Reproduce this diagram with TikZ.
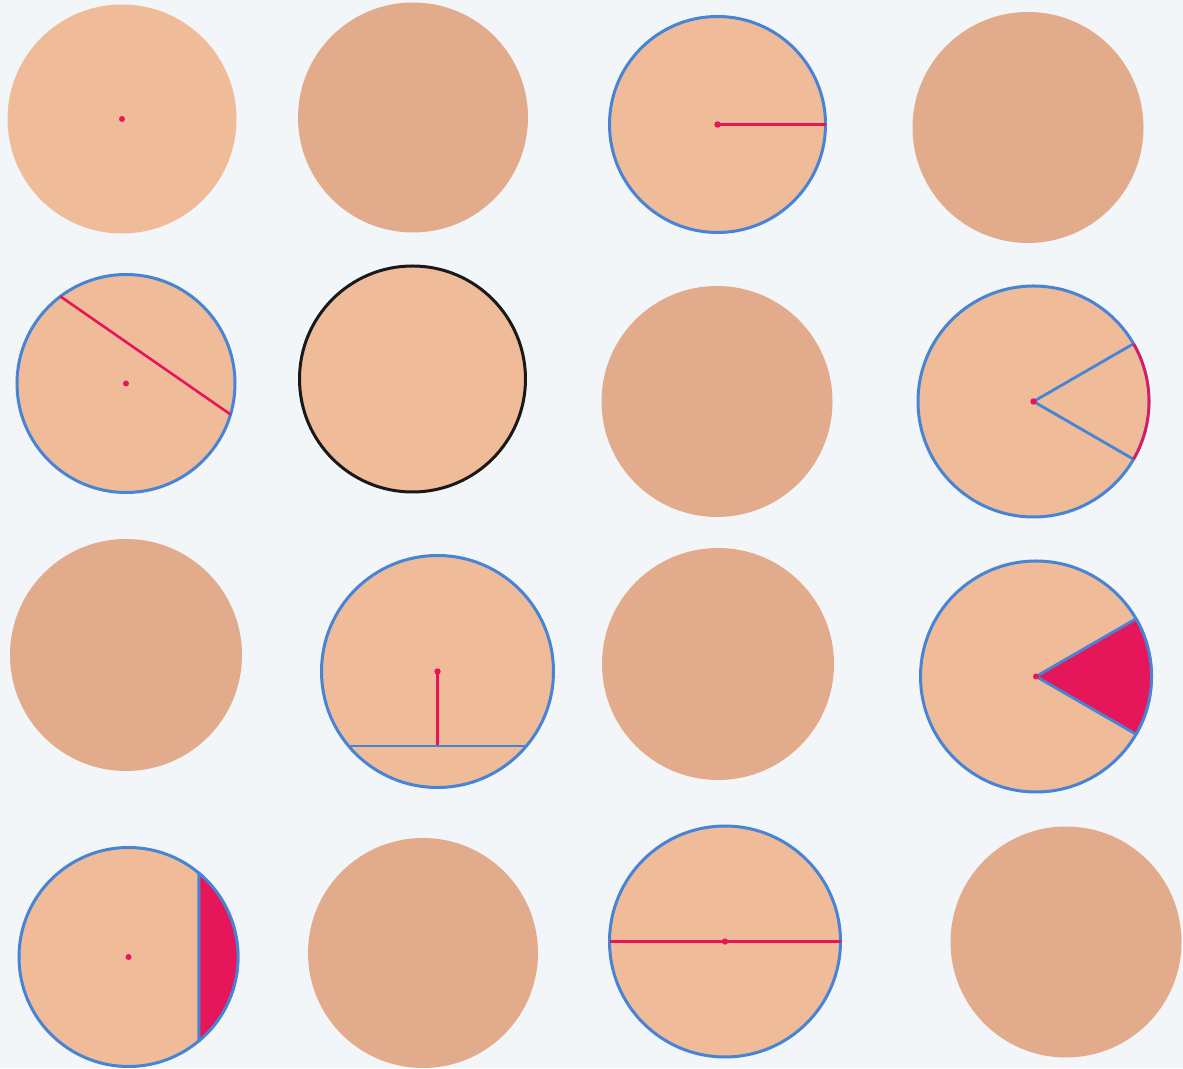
\documentclass[tikz,border=0pt]{standalone}
\definecolor{bgc}{HTML}{F2F6F9}
\definecolor{peach}{HTML}{EFBB99}
\definecolor{tan}{HTML}{E2AC8C}
\definecolor{blueC}{HTML}{4784D6}
\definecolor{redC}{HTML}{E5175A}
\begin{document}
\begin{tikzpicture}[x=1pt,y=1pt,
  light/.style={fill=peach},
  dark/.style={fill=tan},
  outline/.style={draw=blueC, line width=3pt},
  blackline/.style={draw=black!90, line width=3pt},
  redline/.style={draw=redC, line width=2.6pt},
  blueline/.style={draw=blueC, line width=2.8pt},
  dot/.style={fill=redC}]
\fill[bgc] (0,0) rectangle (1183,1068);
% centres
\coordinate (c1) at (122,949);
\coordinate (c2) at (413,950.5);
\coordinate (c3) at (717.5,943.5);
\coordinate (c4) at (1028,940.5);
\coordinate (c5) at (126,684.5);
\coordinate (c6) at (412.5,689);
\coordinate (c7) at (717,666.5);
\coordinate (c8) at (1033.5,666.5);
\coordinate (c9) at (126,413);
\coordinate (c10) at (437.5,396.5);
\coordinate (c11) at (718,404);
\coordinate (c12) at (1036,391.5);
\coordinate (c13) at (128.5,111);
\coordinate (c14) at (423,115);
\coordinate (c15) at (725,126.5);
\coordinate (c16) at (1066,126);
% row 1
\fill[light] (c1) circle (114.5);
\fill[dot] (c1) circle (3);
\fill[dark] (c2) circle (115);
\path[light, outline] (c3) circle (108);
\draw[redline] (c3) -- ++(0:108);
\fill[dot] (c3) circle (3.2);
\fill[dark] (c4) circle (115.5);
% row 2
\path[light, outline] (c5) circle (109);
\path (c5) ++(127:109) coordinate (p5a) (c5) ++(-16.5:109) coordinate (p5b);
\draw[redline] (p5a) -- (p5b);
\fill[dot] (c5) circle (3);
\path[light, blackline] (c6) circle (113);
\fill[dark] (c7) circle (115.5);
\path[light, outline] (c8) circle (115.5);
\path (c8) ++(30:115.5) coordinate (p8a) (c8) ++(-30:115.5) coordinate (p8b);
\draw[blueline, line join=round] (p8a) -- (c8) -- (p8b);
\draw[redline] (p8b) arc[start angle=-30, end angle=30, radius=115.5];
\fill[dot] (c8) circle (3.2);
% row 3
\fill[dark] (c9) circle (116);
\path[light, outline] (c10) circle (116);
\path (c10) ++(-140:116) coordinate (p10a) (c10) ++(-40:116) coordinate (p10b);
\path (c10) ++(0,-75) coordinate (p10m);
\draw[redline] (c10) -- (p10m);
\draw[blueline] (p10a) -- (p10b);
\fill[dot] (c10) circle (3.2);
\fill[dark] (c11) circle (116);
\path[light, outline] (c12) circle (115.5);
\filldraw[fill=redC, draw=blueC, line width=2.8pt, line join=round]
  (c12) -- ++(30:115.5) arc[start angle=30, end angle=-30, radius=115.5] -- cycle;
\fill[dot] (c12) circle (3);
% row 4
\path[light, outline] (c13) circle (109.5);
\filldraw[fill=redC, draw=blueC, line width=2.8pt, line join=round]
  (c13) ++(-50:109.5) arc[start angle=-50, end angle=50, radius=109.5] -- cycle;
\fill[dot] (c13) circle (3);
\fill[dark] (c14) circle (115);
\path[light, outline] (c15) circle (115.5);
\path (c15) ++(180:115.5) coordinate (p15a) (c15) ++(0:115.5) coordinate (p15b);
\draw[redline] (p15a) -- (p15b);
\fill[dot] (c15) circle (3.2);
\fill[dark] (c16) circle (115.5);
\end{tikzpicture}
\end{document}
